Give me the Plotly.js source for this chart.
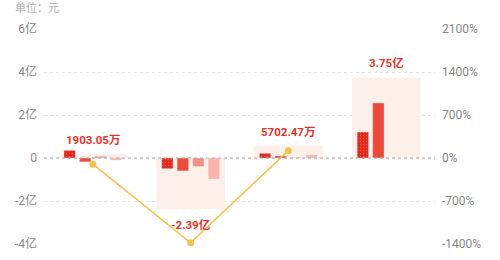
<!DOCTYPE html>
<html><head><meta charset="utf-8">
<script src="https://cdn.plot.ly/plotly-3.0.1.min.js"></script>
<style>html,body{margin:0;padding:0;background:#fff}#c{width:500px;height:260px}</style>
</head><body><div id="c"></div>
<script>
const categories = ['一季度', '二季度', '三季度', '四季度'];
const totals = [0.190305e8, -2.39e8, 0.570247e8, 3.75e8];
const totalLabels = ['1903.05万', '-2.39亿', '5702.47万', '3.75亿'];
const seriesA = [0.36e8, -0.50e8, 0.22e8, 1.21e8];
const seriesB = [-0.18e8, -0.60e8, 0.10e8, 2.56e8];
const seriesC = [0.08e8, -0.40e8, 0.03e8, 0];
const seriesD = [-0.10e8, -0.98e8, 0.15e8, 0];
const growth = [-100, -1380, 120, null];
const leftTickVals = [6e8, 4e8, 2e8, 0, -2e8, -4e8];
const leftTickText = ['6亿', '4亿', '2亿', '0', '-2亿', '-4亿'];
const rightTickVals = [2100, 1400, 700, 0, -700, -1400];
const rightTickText = ['2100%', '1400%', '700%', '0%', '-700%', '-1400%'];

const FONT = 'Roboto, "Noto Sans CJK SC", sans-serif';
const subW = 0.118, slot = 0.1586;
const subStyles = [
  {color: '#e0291f', pattern: {shape: '.', fgcolor: '#ee5a4a', bgcolor: '#e0291f', size: 3, solidity: 0.15}},
  {color: '#ec4a3b'},
  {color: '#f29589', pattern: {shape: '.', fgcolor: '#e27d70', bgcolor: '#f29589', size: 3, solidity: 0.2}},
  {color: '#fbb4a9'}
];
const subData = [seriesA, seriesB, seriesC, seriesD];

const traces = [{
  type: 'bar', x: categories, y: totals, width: 0.7,
  marker: {color: '#fdefe9'}, hoverinfo: 'skip', showlegend: false
}];
subData.forEach((vals, i) => {
  const m = {color: subStyles[i].color, line: {color: 'rgba(255,255,255,0.7)', width: 0.5}};
  if (subStyles[i].pattern) m.pattern = subStyles[i].pattern;
  traces.push({
    type: 'bar', x: categories, y: vals, width: subW,
    offset: (i - 1.5) * slot - subW / 2,
    marker: m, showlegend: false
  });
});
traces.push({
  type: 'scatter', mode: 'lines+markers', x: categories, y: growth, yaxis: 'y2',
  line: {color: '#f5c14b', width: 1.5}, marker: {color: '#f5c14b', size: 7},
  showlegend: false, connectgaps: false, cliponaxis: false
});

const annotations = categories.map((c, i) => ({
  x: c, y: totals[i], xref: 'x', yref: 'y', text: '<b>' + totalLabels[i] + '</b>',
  showarrow: false, yshift: totals[i] >= 0 ? 14 : -16,
  font: {family: FONT, size: 11.5, color: '#e5332a'}
}));
annotations.push({
  xref: 'paper', yref: 'paper', x: 0, y: 1, xshift: -31, yshift: 22,
  xanchor: 'left', yanchor: 'middle', showarrow: false, text: '单位：元',
  font: {family: '"Noto Sans CJK SC", sans-serif', size: 11, color: '#b0b0b0'}
});

const layout = {
  width: 500, height: 260,
  margin: {l: 44, r: 65, t: 29, b: 16},
  paper_bgcolor: '#fff', plot_bgcolor: '#fff',
  barmode: 'overlay', showlegend: false,
  font: {family: FONT, size: 12, color: '#888888'},
  xaxis: {type: 'category', showticklabels: false, showgrid: false, zeroline: false,
          showline: false, ticks: '', range: [-0.5, 3.5]},
  yaxis: {range: [-4e8, 6e8], tickvals: leftTickVals, ticktext: leftTickText,
          showgrid: true, gridcolor: '#e2e2e2', griddash: 'dot', gridwidth: 1,
          zeroline: false, showline: false, ticks: '', ticklabelstandoff: 6,
          tickfont: {family: FONT, size: 12, color: '#888888'}},
  yaxis2: {overlaying: 'y', side: 'right', range: [-1400, 2100],
           tickvals: rightTickVals, ticktext: rightTickText,
           showgrid: false, zeroline: false, showline: false, ticks: '', ticklabelstandoff: 6,
           tickfont: {family: FONT, size: 12, color: '#888888'}},
  shapes: [{type: 'line', xref: 'paper', x0: 0, x1: 1, yref: 'y', y0: 0, y1: 0,
            line: {color: '#ababab', width: 1.2, dash: 'dot'}, layer: 'above'}],
  annotations: annotations
};
Plotly.newPlot('c', traces, layout, {displayModeBar: false, staticPlot: true});
</script></body></html>
